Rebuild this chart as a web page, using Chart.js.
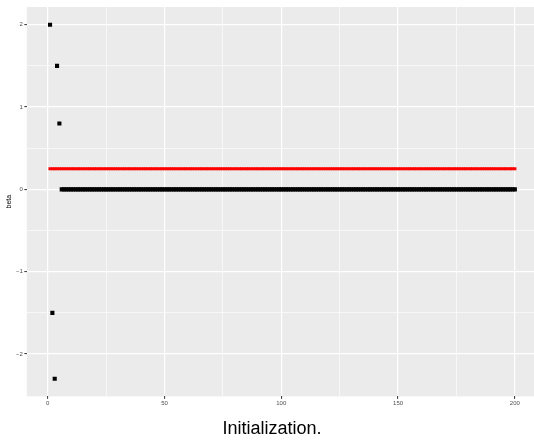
<!DOCTYPE html>
<html>
<head>
<meta charset="utf-8">
<script src="https://cdn.jsdelivr.net/npm/chart.js@4/dist/chart.umd.min.js"></script>
<style>
html,body{margin:0;padding:0;background:#fff;overflow:hidden;}
canvas{display:block;}
</style>
</head>
<body>
<canvas id="c" width="534" height="446"></canvas>
<script>
// iteration 1..200 ; beta values at initialization
const betaInit = [2, -1.5, -2.3, 1.5, 0.8,
0,0,0,0,0,0,0,0,0,0,0,0,0,0,0,0,0,0,0,0,0,0,0,0,0,0,0,0,0,0,0,0,0,0,0,0,0,0,0,0,0,0,0,0,0,
0,0,0,0,0,0,0,0,0,0,0,0,0,0,0,0,0,0,0,0,0,0,0,0,0,0,0,0,0,0,0,0,0,0,0,0,0,0,0,0,0,0,0,0,0,
0,0,0,0,0,0,0,0,0,0,0,0,0,0,0,0,0,0,0,0,0,0,0,0,0,0,0,0,0,0,0,0,0,0,0,0,0,0,0,0,0,0,0,0,0,
0,0,0,0,0,0,0,0,0,0,0,0,0,0,0,0,0,0,0,0,0,0,0,0,0,0,0,0,0,0,0,0,0,0,0,0,0,0,0,0,0,0,0,0,0,
0,0,0,0,0,0,0,0,0,0,0,0,0,0,0];
const betaRef = [
0.25,0.25,0.25,0.25,0.25,0.25,0.25,0.25,0.25,0.25,0.25,0.25,0.25,0.25,0.25,0.25,0.25,0.25,0.25,0.25,
0.25,0.25,0.25,0.25,0.25,0.25,0.25,0.25,0.25,0.25,0.25,0.25,0.25,0.25,0.25,0.25,0.25,0.25,0.25,0.25,
0.25,0.25,0.25,0.25,0.25,0.25,0.25,0.25,0.25,0.25,0.25,0.25,0.25,0.25,0.25,0.25,0.25,0.25,0.25,0.25,
0.25,0.25,0.25,0.25,0.25,0.25,0.25,0.25,0.25,0.25,0.25,0.25,0.25,0.25,0.25,0.25,0.25,0.25,0.25,0.25,
0.25,0.25,0.25,0.25,0.25,0.25,0.25,0.25,0.25,0.25,0.25,0.25,0.25,0.25,0.25,0.25,0.25,0.25,0.25,0.25,
0.25,0.25,0.25,0.25,0.25,0.25,0.25,0.25,0.25,0.25,0.25,0.25,0.25,0.25,0.25,0.25,0.25,0.25,0.25,0.25,
0.25,0.25,0.25,0.25,0.25,0.25,0.25,0.25,0.25,0.25,0.25,0.25,0.25,0.25,0.25,0.25,0.25,0.25,0.25,0.25,
0.25,0.25,0.25,0.25,0.25,0.25,0.25,0.25,0.25,0.25,0.25,0.25,0.25,0.25,0.25,0.25,0.25,0.25,0.25,0.25,
0.25,0.25,0.25,0.25,0.25,0.25,0.25,0.25,0.25,0.25,0.25,0.25,0.25,0.25,0.25,0.25,0.25,0.25,0.25,0.25,
0.25,0.25,0.25,0.25,0.25,0.25,0.25,0.25,0.25,0.25,0.25,0.25,0.25,0.25,0.25,0.25,0.25,0.25,0.25,0.25];
const xMajorTicks = [0, 50, 100, 150, 200];
const xMinorTicks = [25, 75, 125, 175];
const yMajorTicks = [-2, -1, 0, 1, 2];
const yMinorTicks = [-1.5, -0.5, 0.5, 1.5];
const yTitle = 'beta';
const plotTitle = 'Initialization.';

const toPts = arr => arr.map((v, i) => ({x: i + 1, y: v}));
const fmt = v => (v < 0 ? '\u2212' + Math.abs(v) : String(v));

const panelBg = {
  id: 'panelBg',
  afterLayout(chart) {
    if (chart.titleBlock) { chart.titleBlock.left = 10; }
  },
  beforeDraw(chart) {
    const a = chart.chartArea, ctx = chart.ctx;
    ctx.save();
    ctx.fillStyle = '#EBEBEB';
    ctx.fillRect(a.left, a.top, a.right - a.left, a.bottom - a.top);
    ctx.restore();
  }
};

const tickFont = {family: '"Liberation Sans", Arial, sans-serif', size: 6};

new Chart(document.getElementById('c'), {
  type: 'scatter',
  data: {
    datasets: [
      {data: toPts(betaInit), pointStyle: 'rect', pointRadius: 2.9, pointBorderWidth: 0,
       backgroundColor: '#000000', borderColor: '#000000'},
      {data: toPts(betaRef), pointStyle: 'rect', pointRadius: 2.2, pointBorderWidth: 0,
       backgroundColor: '#FF0000', borderColor: '#FF0000'}
    ]
  },
  options: {
    responsive: false,
    animation: false,
    devicePixelRatio: 1,
    layout: {autoPadding: false, padding: {top: 7, left: 0, right: 0, bottom: 0}},
    plugins: {
      legend: {display: false},
      tooltip: {enabled: false},
      title: {
        display: true, position: 'bottom', text: plotTitle, color: '#000',
        font: {family: '"Liberation Sans", Arial, sans-serif', size: 18, weight: 'normal'},
        padding: {top: 2, bottom: 6}
      }
    },
    scales: {
      x: {
        type: 'linear', min: -8.95, max: 208.2,
        afterBuildTicks: s => { s.ticks = xMajorTicks.concat(xMinorTicks).sort((a,b)=>a-b).map(v => ({value: v})); },
        afterFit: s => { s.height = 20; s.paddingLeft = 0; s.paddingRight = 0; },
        border: {display: false},
        grid: {
          color: '#FFFFFF',
          lineWidth: c => (xMajorTicks.includes(c.tick.value) ? 1.2 : 0.6),
          tickColor: c => (xMajorTicks.includes(c.tick.value) ? '#333333' : 'rgba(0,0,0,0)'),
          tickLength: 2.5, tickWidth: 1
        },
        ticks: {
          autoSkip: false, maxRotation: 0, padding: 1, color: '#4D4D4D', font: tickFont,
          callback: v => (xMajorTicks.includes(v) ? fmt(v) : '')
        }
      },
      y: {
        type: 'linear', min: -2.515, max: 2.215,
        afterBuildTicks: s => { s.ticks = yMajorTicks.concat(yMinorTicks).sort((a,b)=>a-b).map(v => ({value: v})); },
        afterFit: s => { s.width = 26.8; s.paddingTop = 0; s.paddingBottom = 0; },
        border: {display: false},
        grid: {
          color: '#FFFFFF',
          lineWidth: c => (yMajorTicks.includes(c.tick.value) ? 1.2 : 0.6),
          tickColor: c => (yMajorTicks.includes(c.tick.value) ? '#333333' : 'rgba(0,0,0,0)'),
          tickLength: 2.5, tickWidth: 1
        },
        ticks: {
          autoSkip: false, padding: 1.5, color: '#4D4D4D', font: tickFont,
          callback: v => (yMajorTicks.includes(v) ? fmt(v) : '')
        },
        title: {
          display: true, text: yTitle, color: '#000',
          font: {family: '"Liberation Sans", Arial, sans-serif', size: 7},
          padding: {top: 5, bottom: 0}
        }
      }
    }
  },
  plugins: [panelBg]
});
</script>
</body>
</html>
